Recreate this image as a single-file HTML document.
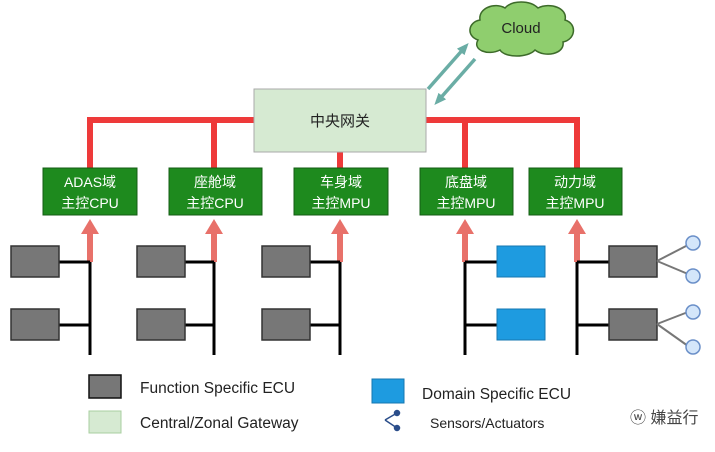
<!DOCTYPE html>
<html><head><meta charset="utf-8"><style>
body{margin:0;background:#fff;}
svg text{font-family:"Liberation Sans","Noto Sans CJK SC",sans-serif;}
</style></head><body>
<svg width="715" height="447" viewBox="0 0 715 447" xmlns="http://www.w3.org/2000/svg">
<defs>
<marker id="ta" markerUnits="userSpaceOnUse" markerWidth="12" markerHeight="12" refX="8" refY="6" orient="auto"><path d="M0,1 L12,6 L0,11 z" fill="#6aada5"/></marker>
</defs>
<path d="M480,20 C478,8 495,2 505,8 C512,0 530,0 538,8 C550,2 568,8 565,20 C578,24 575,40 563,42 C565,54 545,58 535,50 C528,58 505,58 500,50 C488,56 472,50 478,40 C466,36 468,22 480,20 z" fill="#8fce6e" stroke="#3d6b2a" stroke-width="1.5"/>
<text x="521" y="33" font-size="15" text-anchor="middle" fill="#222">Cloud</text>
<line x1="428" y1="89" x2="466" y2="46" stroke="#6aada5" stroke-width="3.5" marker-end="url(#ta)"/>
<line x1="475" y1="59" x2="437" y2="102" stroke="#6aada5" stroke-width="3.5" marker-end="url(#ta)"/>
<g stroke="#ee3a3a" stroke-width="6" fill="none">
<path d="M90,168 V120 H577 V168"/>
<line x1="214" y1="120" x2="214" y2="168"/>
<line x1="340" y1="150" x2="340" y2="168"/>
<line x1="465" y1="120" x2="465" y2="168"/>
</g>
<rect x="254" y="89" width="172" height="63" fill="#d6ead2" stroke="#aaa"/>
<text x="340" y="126" font-size="15" text-anchor="middle" fill="#222">中央网关</text>
<g fill="#1e8a1e" stroke="#145c14">
<rect x="43" y="168" width="94" height="47"/>
<rect x="169" y="168" width="93" height="47"/>
<rect x="294" y="168" width="94" height="47"/>
<rect x="420" y="168" width="93" height="47"/>
<rect x="529" y="168" width="93" height="47"/>
</g>
<g fill="#fff" font-size="14" text-anchor="middle">
<text x="90" y="187">ADAS域</text><text x="90" y="208">主控CPU</text>
<text x="215" y="187">座舱域</text><text x="215" y="208">主控CPU</text>
<text x="341" y="187">车身域</text><text x="341" y="208">主控MPU</text>
<text x="466" y="187">底盘域</text><text x="466" y="208">主控MPU</text>
<text x="575" y="187">动力域</text><text x="575" y="208">主控MPU</text>
</g>
<g fill="#e8716a">
<path d="M90,219 l-9,15 h6 v28 h6 v-28 h6 z"/>
<path d="M214,219 l-9,15 h6 v28 h6 v-28 h6 z"/>
<path d="M340,219 l-9,15 h6 v28 h6 v-28 h6 z"/>
<path d="M465,219 l-9,15 h6 v28 h6 v-28 h6 z"/>
<path d="M577,219 l-9,15 h6 v28 h6 v-28 h6 z"/>
</g>
<g stroke="#000" stroke-width="3">
<line x1="90" y1="262" x2="90" y2="355"/><line x1="59" y1="262" x2="90" y2="262"/><line x1="59" y1="325" x2="90" y2="325"/>
<line x1="214" y1="262" x2="214" y2="355"/><line x1="185" y1="262" x2="214" y2="262"/><line x1="185" y1="325" x2="214" y2="325"/>
<line x1="340" y1="262" x2="340" y2="355"/><line x1="310" y1="262" x2="340" y2="262"/><line x1="310" y1="325" x2="340" y2="325"/>
<line x1="465" y1="262" x2="465" y2="355"/><line x1="465" y1="262" x2="497" y2="262"/><line x1="465" y1="325" x2="497" y2="325"/>
<line x1="577" y1="262" x2="577" y2="355"/><line x1="577" y1="262" x2="609" y2="262"/><line x1="577" y1="325" x2="609" y2="325"/>
</g>
<g fill="#777" stroke="#333" stroke-width="1.5">
<rect x="11" y="246" width="48" height="31"/><rect x="11" y="309" width="48" height="31"/>
<rect x="137" y="246" width="48" height="31"/><rect x="137" y="309" width="48" height="31"/>
<rect x="262" y="246" width="48" height="31"/><rect x="262" y="309" width="48" height="31"/>
<rect x="609" y="246" width="48" height="31"/><rect x="609" y="309" width="48" height="31"/>
</g>
<g fill="#1e9be0" stroke="#1577b0">
<rect x="497" y="246" width="48" height="31"/><rect x="497" y="309" width="48" height="31"/>
</g>
<g stroke="#777" stroke-width="2">
<line x1="657" y1="261" x2="688" y2="245"/><line x1="657" y1="261" x2="688" y2="274"/>
<line x1="657" y1="324" x2="688" y2="312"/><line x1="657" y1="324" x2="688" y2="346"/>
</g>
<g fill="#d4e6fa" stroke="#6a8fc8" stroke-width="1.5">
<circle cx="693" cy="243" r="7"/><circle cx="693" cy="276" r="7"/><circle cx="693" cy="312" r="7"/><circle cx="693" cy="347" r="7"/>
</g>
<rect x="89" y="375" width="32" height="23" fill="#777" stroke="#111" stroke-width="1.5"/>
<rect x="89" y="411" width="32" height="22" fill="#d6ead2" stroke="#a8cfa0"/>
<rect x="372" y="379" width="32" height="24" fill="#1e9be0" stroke="#1577b0"/>
<g fill="#222" font-size="15.5">
<text x="140" y="393">Function Specific ECU</text>
<text x="140" y="428">Central/Zonal Gateway</text>
<text x="422" y="399">Domain Specific ECU</text>
<text x="430" y="428" font-size="14">Sensors/Actuators</text>
</g>
<g stroke="#2a4d8a" stroke-width="1.5" fill="#2a4d8a">
<line x1="397" y1="413" x2="385" y2="420"/><line x1="385" y1="420" x2="397" y2="428"/>
<circle cx="397" cy="413" r="2.5"/><circle cx="397" cy="428" r="2.5"/>
</g>
<text x="630" y="423" font-size="16" fill="#444">ⓦ 嫌益行</text>
</svg>
</body></html>
